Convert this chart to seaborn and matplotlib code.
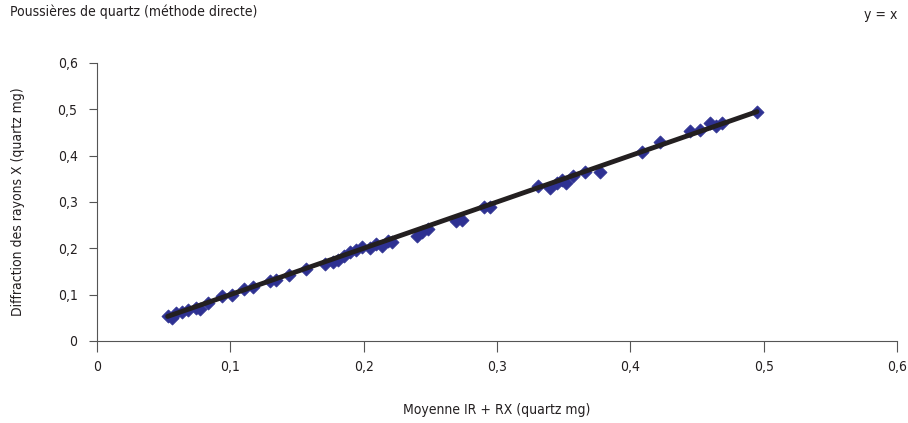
import matplotlib
matplotlib.use("Agg")
import matplotlib.pyplot as plt
import seaborn as sns
import pandas as pd
from matplotlib.ticker import FuncFormatter

moyenne = [0.053, 0.056, 0.059, 0.064, 0.068, 0.074, 0.077, 0.083, 0.094, 0.101,
           0.110, 0.117, 0.130, 0.134, 0.144, 0.157, 0.171, 0.177, 0.181, 0.185,
           0.190, 0.194, 0.199, 0.205, 0.209, 0.214, 0.218, 0.221, 0.240, 0.244,
           0.248, 0.269, 0.274, 0.290, 0.295, 0.331, 0.340, 0.345, 0.349, 0.352,
           0.357, 0.366, 0.377, 0.409, 0.422, 0.445, 0.452, 0.460, 0.464, 0.469,
           0.495]
drx = [0.054, 0.050, 0.060, 0.063, 0.067, 0.071, 0.069, 0.082, 0.097, 0.099,
       0.112, 0.117, 0.130, 0.132, 0.142, 0.155, 0.166, 0.171, 0.175, 0.183,
       0.192, 0.196, 0.203, 0.201, 0.209, 0.205, 0.216, 0.214, 0.227, 0.235,
       0.242, 0.259, 0.261, 0.289, 0.289, 0.335, 0.330, 0.341, 0.347, 0.341,
       0.356, 0.365, 0.365, 0.408, 0.430, 0.453, 0.455, 0.470, 0.464, 0.470,
       0.494]
ticks = [0, 0.1, 0.2, 0.3, 0.4, 0.5, 0.6]

sns.set_style("white")
plt.rcParams['font.family'] = ['DejaVu Sans']
plt.rcParams['font.stretch'] = 'condensed'

df = pd.DataFrame({"x": moyenne, "y": drx})
line_x = [min(moyenne), max(moyenne)]
line_df = pd.DataFrame({"x": line_x, "y": line_x})

fig = plt.figure(figsize=(9.08, 4.23), dpi=100)
ax = fig.add_axes([0.1068, 0.1939, 0.8811, 0.6572])

sns.scatterplot(data=df, x="x", y="y", ax=ax, marker="D", s=45,
                color="#2E3192", edgecolor="#2E3192", linewidth=0.5, zorder=2)
sns.lineplot(data=line_df, x="x", y="y", ax=ax, color="#231F20", linewidth=3.5, zorder=3)

ax.set_xlim(0, 0.6)
ax.set_ylim(0, 0.6)
ax.set_xticks(ticks)
ax.set_yticks(ticks)
fmt = FuncFormatter(lambda v, p: ("%g" % round(v, 1)).replace(".", ","))
ax.xaxis.set_major_formatter(fmt)
ax.yaxis.set_major_formatter(fmt)

for s in ["top", "right"]:
    ax.spines[s].set_visible(False)
for s in ["left", "bottom"]:
    ax.spines[s].set_color("#555555")
    ax.spines[s].set_linewidth(0.8)

ax.tick_params(axis="x", direction="out", length=8, width=0.8, color="#555555",
               pad=6, labelsize=10, labelcolor="#231F20", bottom=True)
ax.tick_params(axis="y", direction="out", length=6, width=0.8, color="#555555",
               pad=8, labelsize=10, labelcolor="#231F20", left=True)

ax.set_xlabel("Moyenne IR + RX (quartz mg)", fontsize=10, color="#231F20")
ax.set_ylabel("Diffraction des rayons X (quartz mg)", fontsize=10, color="#231F20")
ax.xaxis.set_label_coords(0.5, -0.222)
ax.yaxis.set_label_coords(-0.09, 0.5)

fig.text(0.011, 0.972, "Poussières de quartz (méthode directe)", fontsize=10,
         color="#231F20", ha="left", va="center")
fig.text(0.988, 0.965, "y = x", fontsize=10, color="#231F20", ha="right", va="center")

fig.savefig("out.png", dpi=100)
